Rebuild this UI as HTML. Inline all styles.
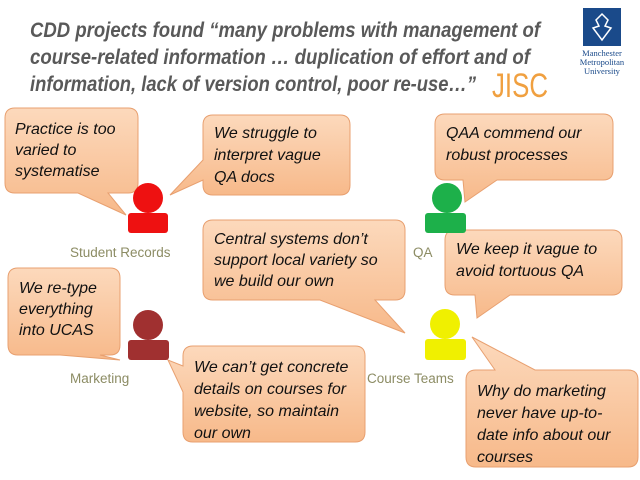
<!DOCTYPE html>
<html><head><meta charset="utf-8"><style>
body{margin:0;background:#fff}
svg{display:block}
.t{font-family:"Liberation Sans",sans-serif;font-style:italic;font-size:16px;fill:#111}
.h{font-family:"Liberation Sans",sans-serif;font-style:italic;font-weight:bold;font-size:21px;fill:#595959}
.l{font-family:"Liberation Sans",sans-serif;font-size:13.5px;fill:#8c8c64}
</style></head><body>
<svg width="640" height="480" viewBox="0 0 640 480">
<defs>
<linearGradient id="g" x1="0" y1="0" x2="0" y2="1"><stop offset="0" stop-color="#fcd9bc"/><stop offset="1" stop-color="#f7b98a"/></linearGradient>
</defs>
<text class="h" x="30" y="37" textLength="510" lengthAdjust="spacingAndGlyphs">CDD projects found “many problems with management of</text>
<text class="h" x="30" y="64" textLength="500" lengthAdjust="spacingAndGlyphs">course-related information … duplication of effort and of</text>
<text class="h" x="30" y="91" textLength="446" lengthAdjust="spacingAndGlyphs">information, lack of version control, poor re-use…”</text>
<text x="492" y="97" font-family="Liberation Sans,sans-serif" font-size="34" fill="#f0a040" textLength="56" lengthAdjust="spacingAndGlyphs">JISC</text>
<rect x="583" y="8" width="38" height="38" fill="#1a4a8a"/>
<path d="M602 14 l6 6 l-3 6 l6 2 l-9 12 l-9-12 l6-2 l-3-6z" fill="none" stroke="#fff" stroke-width="1.5"/>
<text x="602" y="56" text-anchor="middle" font-family="Liberation Serif,serif" font-size="8.5" fill="#1a4a8a">Manchester</text>
<text x="602" y="65" text-anchor="middle" font-family="Liberation Serif,serif" font-size="8.5" fill="#1a4a8a">Metropolitan</text>
<text x="602" y="74" text-anchor="middle" font-family="Liberation Serif,serif" font-size="8.5" fill="#1a4a8a">University</text>

<g fill="url(#g)" stroke="#e8a070" stroke-width="1">
<path d="M15 108 H128 Q138 108 138 118 V183 Q138 193 128 193 H108 L126 215 L78 193 H15 Q5 193 5 183 V118 Q5 108 15 108Z"/>
<path d="M213 115 H340 Q350 115 350 125 V185 Q350 195 340 195 H213 Q203 195 203 185 V180 L170 195 L203 160 V125 Q203 115 213 115Z"/>
<path d="M445 114 H603 Q613 114 613 124 V170 Q613 180 603 180 H497 L465 202 L463 180 H445 Q435 180 435 170 V124 Q435 114 445 114Z"/>
<path d="M213 220 H395 Q405 220 405 230 V290 Q405 300 395 300 H375 L405 333 L320 300 H213 Q203 300 203 290 V230 Q203 220 213 220Z"/>
<path d="M455 230 H612 Q622 230 622 240 V285 Q622 295 612 295 H510 L477 318 L475 295 H455 Q445 295 445 285 V240 Q445 230 455 230Z"/>
<path d="M18 268 H110 Q120 268 120 278 V345 Q120 355 110 355 H100 L120 360 L60 355 H18 Q8 355 8 345 V278 Q8 268 18 268Z"/>
<path d="M193 346 H355 Q365 346 365 356 V432 Q365 442 355 442 H193 Q183 442 183 432 V392 L168 360 L183 366 V356 Q183 346 193 346Z"/>
<path d="M476 370 H495 L472 337 L535 370 H628 Q638 370 638 380 V457 Q638 467 628 467 H476 Q466 467 466 457 V380 Q466 370 476 370Z"/>
</g>

<circle cx="148" cy="198" r="15" fill="#ee1111"/><rect x="128" y="213" width="40" height="20" rx="3" fill="#ee1111"/>
<circle cx="447" cy="198" r="15" fill="#1db04a"/><rect x="425" y="213" width="41" height="20" rx="3" fill="#1db04a"/>
<circle cx="148" cy="325" r="15" fill="#a03030"/><rect x="128" y="340" width="41" height="20" rx="3" fill="#a03030"/>
<circle cx="445" cy="324" r="15" fill="#f0f000"/><rect x="425" y="339" width="41" height="21" rx="3" fill="#f0f000"/>

<text class="l" x="70" y="257">Student Records</text>
<text class="l" x="413" y="257">QA</text>
<text class="l" x="70" y="383">Marketing</text>
<text class="l" x="367" y="383">Course Teams</text>

<text class="t"><tspan x="15" y="134">Practice is too</tspan><tspan x="15" y="155">varied to</tspan><tspan x="15" y="176">systematise</tspan></text>
<text class="t"><tspan x="214" y="138">We struggle to</tspan><tspan x="214" y="160">interpret vague</tspan><tspan x="214" y="182">QA docs</tspan></text>
<text class="t"><tspan x="446" y="138">QAA commend our</tspan><tspan x="446" y="160">robust processes</tspan></text>
<text class="t"><tspan x="214" y="244">Central systems don’t</tspan><tspan x="214" y="265">support local variety so</tspan><tspan x="214" y="286">we build our own</tspan></text>
<text class="t"><tspan x="456" y="254">We keep it vague to</tspan><tspan x="456" y="276">avoid tortuous QA</tspan></text>
<text class="t"><tspan x="19" y="293">We re-type</tspan><tspan x="19" y="314">everything</tspan><tspan x="19" y="335">into UCAS</tspan></text>
<text class="t"><tspan x="194" y="372">We can’t get concrete</tspan><tspan x="194" y="394">details on courses for</tspan><tspan x="194" y="416">website, so maintain</tspan><tspan x="194" y="438">our own</tspan></text>
<text class="t"><tspan x="477" y="396">Why do marketing</tspan><tspan x="477" y="418">never have up-to-</tspan><tspan x="477" y="440">date info about our</tspan><tspan x="477" y="462">courses</tspan></text>
</svg>
</body></html>
